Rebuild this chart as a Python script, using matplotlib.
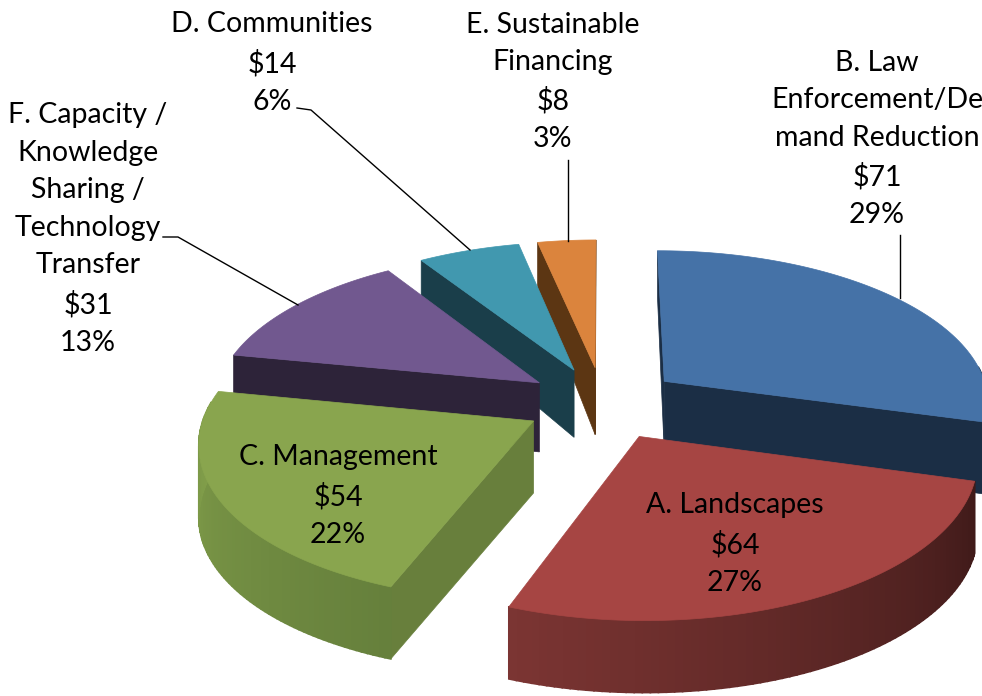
import matplotlib
matplotlib.use("Agg")
import matplotlib.pyplot as plt
import numpy as np

plt.rcParams['font.family'] = ['Lato', 'DejaVu Sans']

# slices in clockwise order from 12 o'clock
names = ["B", "A", "C", "F", "D", "E"]
values = [71, 64, 54, 31, 14, 8]
pct = ["29%", "27%", "22%", "13%", "6%", "3%"]
labels = ["B. Law\nEnforcement/De\nmand Reduction",
          "A. Landscapes",
          "C. Management",
          "F. Capacity /\nKnowledge\nSharing /\nTechnology\nTransfer",
          "D. Communities",
          "E. Sustainable\nFinancing"]

top_col = ["#4572a7", "#a64543", "#89a54e", "#71588f", "#4198af", "#db843d"]
cut_col = ["#1b2e45", "#431b1a", "#687f3c", "#2d2339", "#1a3e4a", "#5c3613"]
arc_a = ["#1b2e45", "#3f1a19", "#66803c", "#2d2339", "#1a3e4a", "#5c3613"]
arc_b = ["#1b2e45", "#7c3533", "#83a04b", "#2d2339", "#1a3e4a", "#5c3613"]

label_xy = [(877, 139), (735, 544), (338, 496), (88, 229), (272, 63), (553, 82)]
draw_order = [5, 4, 3, 0, 2, 1]

# camera
cx, cy = 603, 403
rx, ry = 326, 152
persp = 8
explode = 0.24
height = 72


def project(x, y, down=False):
    s = persp / (persp + y)
    px = cx + rx * x * s
    py = cy - ry * y * s
    if down:
        py = py + height * (1 - 0.3 * np.maximum(y, 0))
    return px, py


def mix(c1, c2, t):
    a = np.array(matplotlib.colors.to_rgb(c1))
    b = np.array(matplotlib.colors.to_rgb(c2))
    return a + (b - a) * t


fig = plt.figure(figsize=(9.82, 6.96), dpi=100)
ax = fig.add_axes([0, 0, 1, 1])
ax.set_xlim(0, 982)
ax.set_ylim(696, 0)
ax.axis("off")

edges = np.cumsum([0] + values) / sum(values) * 2 * np.pi

# back to front
for n, i in enumerate(draw_order):
    z = 2 + n * 3
    a0, a1 = edges[i], edges[i + 1]
    mid = (a0 + a1) / 2
    ox, oy = explode * np.sin(mid), explode * np.cos(mid)
    t = np.linspace(a0, a1, 80)
    ex = ox + np.sin(t)
    ey = oy + np.cos(t)

    # cut faces that look at the viewer
    for ang, normal in [(a0, a0 - np.pi / 2), (a1, a1 + np.pi / 2)]:
        if np.cos(normal) < 0.05:
            x = np.array([ox, ox + np.sin(ang)])
            y = np.array([oy, oy + np.cos(ang)])
            p0 = project(x, y)
            p1 = project(x, y, True)
            ax.fill(np.r_[p0[0], p1[0][::-1]], np.r_[p0[1], p1[1][::-1]],
                    color=cut_col[i], lw=0.5, zorder=z)

    # outer wall, facing part only
    for k in range(len(t) - 1):
        if np.cos(t[k]) > 0.12:
            continue
        f = (t[k] - a0) / (a1 - a0)
        x = ex[k:k + 2]
        y = ey[k:k + 2]
        p0 = project(x, y)
        p1 = project(x, y, True)
        ax.fill(np.r_[p0[0], p1[0][::-1]], np.r_[p0[1], p1[1][::-1]],
                color=mix(arc_a[i], arc_b[i], f), lw=1.2, zorder=z + 1)

    # top face
    px, py = project(np.r_[ox, ex], np.r_[oy, ey])
    ax.fill(px, py, color=top_col[i], lw=0.5, zorder=z + 2)

# leader lines
ax.plot([297, 311, 470], [108, 110, 250], color="black", lw=1, zorder=30)
ax.plot([163, 178, 298], [237, 237, 305], color="black", lw=1, zorder=30)
ax.plot([900, 900], [235, 298], color="black", lw=1, zorder=30)
ax.plot([568, 568], [160, 241], color="black", lw=1, zorder=30)

for i in range(len(names)):
    txt = labels[i] + "\n\\$" + str(values[i]) + "\n" + pct[i]
    ax.text(label_xy[i][0], label_xy[i][1], txt, ha="center", va="center",
            fontsize=20.5, linespacing=1.55, color="black", zorder=40)

fig.savefig("out.png", dpi=100)
